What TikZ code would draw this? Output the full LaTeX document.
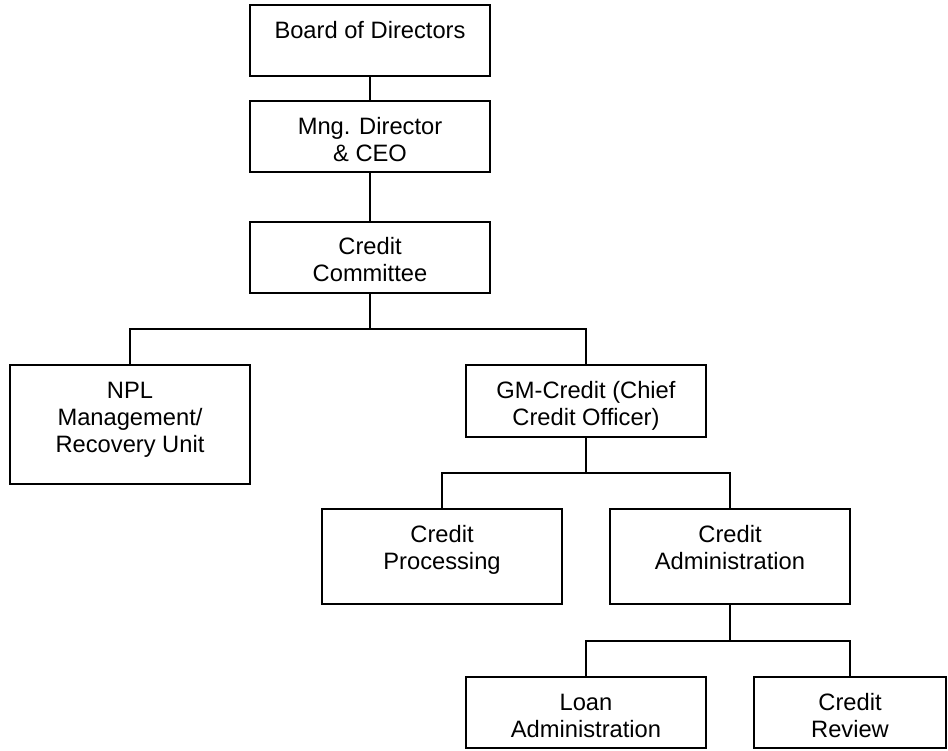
\documentclass[tikz,border=0pt]{standalone}
\usepackage{fontspec}
\setmainfont{Liberation Sans}
\begin{document}
\begin{tikzpicture}[x=1pt,y=-1pt,
  box/.style={draw=black, line width=2.4pt, inner sep=0pt, outer sep=0pt, minimum width=240pt},
  lbl/.style={anchor=north, inner sep=0pt, align=center, text=black,
    font=\fontsize{23.7}{27}\selectfont},
  link/.style={draw=black, line width=2.4pt}]
\useasboundingbox (0,0) rectangle (948,750);
% boxes
\node[box, minimum height=71pt] (board) at (370,40.5) {};
\node[box, minimum height=71pt] (mng) at (370,136.5) {};
\node[box, minimum height=71pt] (cc) at (370,257.5) {};
\node[box, minimum height=119pt] (npl) at (130,424.5) {};
\node[box, minimum height=72pt] (gm) at (586,401) {};
\node[box, minimum height=95pt] (cp) at (442,556.5) {};
\node[box, minimum height=95pt] (ca) at (730,556.5) {};
\node[box, minimum height=71pt] (la) at (586,712.5) {};
\node[box, minimum height=71pt, minimum width=192pt] (cr) at (850,712.5) {};
% labels
\newcommand{\fl}{\rule{0pt}{20pt}}
\node[lbl] (board-t) at ([yshift=-13pt]board.north) {\fl Board of Directors};
\node[lbl] (mng-t) at ([yshift=-13pt]mng.north) {\fl Mng. Director\\\& CEO};
\node[lbl] (cc-t) at ([yshift=-12pt]cc.north) {\fl Credit\\Committee};
\node[lbl] (npl-t) at ([yshift=-13pt]npl.north) {\fl NPL\\Management/\\Recovery Unit};
\node[lbl] (gm-t) at ([yshift=-13pt]gm.north) {\fl GM-Credit (Chief\\Credit Officer)};
\node[lbl] (cp-t) at ([yshift=-13pt]cp.north) {\fl Credit\\Processing};
\node[lbl] (ca-t) at ([yshift=-13pt]ca.north) {\fl Credit\\Administration};
\node[lbl] (la-t) at ([yshift=-13pt]la.north) {\fl Loan\\Administration};
\node[lbl] (cr-t) at ([yshift=-13pt]cr.north) {\fl Credit\\Review};
% connectors
\path[link] (board.south) -- (mng.north);
\path[link] (mng.south) -- (cc.north);
\path[link] (cc.south) -- ++(0,36) -| (npl.north);
\path[link] (cc.south) -- ++(0,36) -| (gm.north);
\path[link] (gm.south) -- ++(0,36) -| (cp.north);
\path[link] (gm.south) -- ++(0,36) -| (ca.north);
\path[link] (ca.south) -- ++(0,37) -| (la.north);
\path[link] (ca.south) -- ++(0,37) -| (cr.north);
\end{tikzpicture}
\end{document}
